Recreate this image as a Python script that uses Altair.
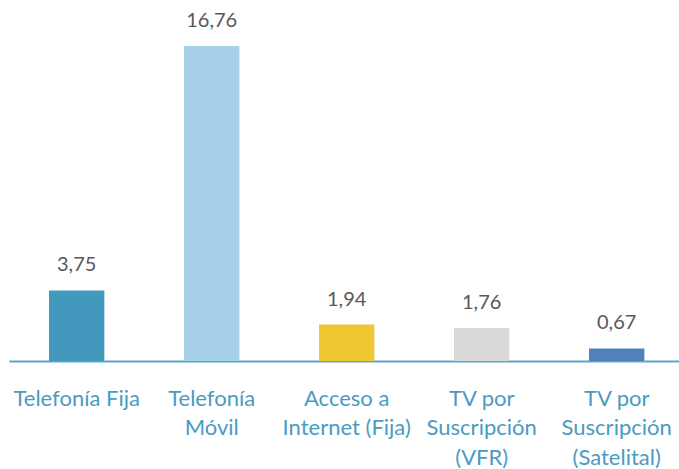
import altair as alt
import pandas as pd

categories = ["Telefonía Fija", "Telefonía|Móvil", "Acceso a|Internet (Fija)",
              "TV por|Suscripción|(VFR)", "TV por|Suscripción|(Satelital)"]
values = [3.75, 16.76, 1.94, 1.76, 0.67]
colors = ["#4399BD", "#A6D0E9", "#EEC632", "#D9D9D9", "#4F81BD"]

df = pd.DataFrame({"cat": categories, "v": values, "c": colors})

x = alt.X("cat:N", sort=categories, title=None,
          scale=alt.Scale(paddingInner=0.59, paddingOuter=0.2765, align=0.536),
          axis=alt.Axis(labelExpr="split(datum.label, '|')", labelAngle=0,
                        labelFont="Lato", labelFontSize=22, labelColor="#4A9BC2",
                        labelLineHeight=29.5, labelPadding=27, labelBaseline="top",
                        ticks=False, domainColor="#5AA5C8", domainWidth=2,
                        grid=False))
y = alt.Y("v:Q", scale=alt.Scale(domain=[0, 19.2], nice=False, zero=True), axis=None)

bars = alt.Chart(df).mark_bar().encode(
    x=x, y=y, color=alt.Color("c:N", scale=None)
)
labels = alt.Chart(df).transform_calculate(
    t="replace(format(datum.v, '.2f'), '.', ',')"
).mark_text(font="Lato", fontSize=20, color="#595959", dy=-15, baseline="bottom").encode(
    x=alt.X("cat:N", sort=categories), y=y, text="t:N"
)

chart = (bars + labels).properties(
    width=670, height=361,
    padding={"left": 9, "top": 0, "right": 0, "bottom": 108},
    autosize=alt.AutoSizeParams(type="none"),
).configure_view(stroke=None)

chart.save("out.html", embed_options={"renderer": "svg", "actions": False})
